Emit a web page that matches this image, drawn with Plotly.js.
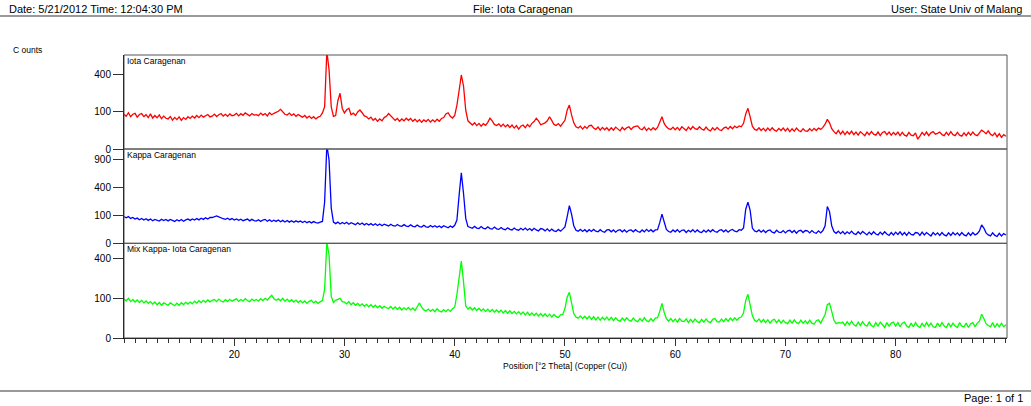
<!DOCTYPE html>
<html>
<head>
<meta charset="utf-8">
<script src="https://cdn.plot.ly/plotly-3.0.1.min.js"></script>
<style>
html,body{margin:0;padding:0;background:#fff;}
#chart{width:1031px;height:406px;}
</style>
</head>
<body>
<div id="chart"></div>
<script>
// 2Theta grid: start 10.0, step 0.2 deg (401 points up to 90.0)
const THETA_START = 10.0;
const THETA_STEP = 0.2;

// Counts (panel 1)
const iotaCounts = [
 88, 78, 96, 76, 88, 93, 74, 87, 92, 77,
 86, 72, 90, 70, 82, 71, 85, 67, 79, 69,
 66, 77, 61, 73, 63, 75, 60, 72, 64, 76,
 68, 79, 70, 82, 72, 84, 74, 81, 87, 75,
 79, 89, 77, 86, 92, 79, 88, 78, 90, 81,
 84, 93, 80, 91, 83, 95, 85, 80, 92, 84,
 86, 81, 94, 84, 92, 80, 96, 86, 93, 98,
 104, 115, 98, 88, 84, 94, 82, 90, 78, 87,
 80, 74, 82, 70, 79, 68, 76, 66, 74, 78,
 95, 130, 700, 460, 130, 78, 82, 170, 227, 120,
 95, 112, 121, 86, 94, 82, 100, 111, 96, 80,
 76, 66, 74, 60, 68, 56, 66, 58, 72, 78,
 92, 80, 66, 60, 68, 56, 66, 58, 69, 60,
 68, 56, 65, 54, 63, 52, 62, 55, 64, 53,
 62, 54, 65, 56, 68, 72, 90, 96, 78, 70,
 82, 140, 250, 400, 290, 110, 58, 50, 42, 50,
 40, 48, 38, 47, 41, 52, 69, 58, 44, 40,
 46, 37, 45, 36, 43, 34, 42, 32, 40, 29,
 38, 42, 33, 44, 36, 48, 55, 69, 58, 43,
 46, 50, 58, 76, 60, 44, 40, 47, 38, 48,
 60, 110, 141, 85, 50, 36, 32, 38, 29, 37,
 31, 40, 41, 32, 28, 35, 26, 34, 27, 33,
 25, 33, 26, 35, 28, 24, 34, 27, 33, 36,
 28, 35, 37, 39, 30, 27, 35, 25, 32, 26,
 33, 27, 34, 50, 76, 48, 36, 30, 28, 35,
 27, 34, 26, 36, 29, 25, 35, 28, 37, 30,
 28, 36, 29, 26, 35, 27, 24, 33, 26, 34,
 27, 25, 32, 35, 29, 37, 30, 38, 33, 39,
 36, 48, 90, 121, 75, 38, 28, 26, 33, 25,
 31, 24, 32, 25, 33, 26, 23, 31, 25, 32,
 24, 31, 22, 30, 23, 32, 25, 22, 30, 24,
 23, 30, 24, 31, 25, 32, 28, 34, 45, 64,
 50, 30, 22, 17, 25, 16, 23, 15, 22, 16,
 23, 15, 21, 14, 22, 16, 13, 21, 15, 22,
 16, 14, 21, 13, 20, 22, 15, 21, 14, 20,
 15, 21, 13, 20, 14, 12, 20, 14, 13, 19,
 7, 12, 20, 14, 21, 13, 19, 22, 16, 18,
 21, 15, 13, 20, 14, 22, 15, 13, 20, 14,
 12, 19, 13, 20, 14, 21, 15, 13, 20, 26,
 22, 17, 24, 16, 13, 19, 11, 17, 10, 15,
 12
];

// Counts (panel 2)
const kappaCounts = [
 92, 84, 92, 80, 86, 76, 82, 72, 80, 70,
 78, 68, 76, 66, 74, 68, 64, 75, 67, 73,
 65, 74, 66, 62, 72, 64, 73, 63, 71, 76,
 68, 77, 70, 79, 71, 81, 74, 84, 76, 86,
 86, 92, 97, 90, 82, 78, 74, 81, 72, 79,
 70, 77, 68, 75, 66, 73, 76, 65, 74, 67,
 64, 72, 62, 70, 74, 63, 71, 61, 69, 62,
 70, 60, 68, 59, 67, 58, 66, 57, 65, 58,
 64, 56, 63, 55, 62, 54, 61, 55, 53, 58,
 62, 220, 1250, 900, 160, 58, 50, 58, 48, 56,
 49, 57, 47, 55, 48, 45, 54, 46, 53, 44,
 51, 43, 50, 42, 49, 41, 48, 40, 47, 42,
 39, 47, 40, 38, 46, 39, 37, 45, 38, 36,
 44, 37, 35, 43, 36, 34, 42, 35, 33, 41,
 34, 40, 33, 39, 32, 40, 34, 31, 39, 33,
 42, 70, 300, 640, 320, 80, 36, 32, 29, 37,
 30, 28, 36, 29, 27, 35, 28, 26, 34, 27,
 25, 32, 26, 24, 31, 25, 23, 30, 24, 22,
 29, 23, 30, 22, 28, 21, 29, 23, 20, 28,
 26, 20, 27, 19, 26, 20, 18, 25, 19, 26,
 35, 90, 184, 110, 40, 22, 19, 25, 18, 24,
 17, 24, 18, 25, 19, 17, 24, 18, 16, 23,
 24, 17, 23, 16, 22, 24, 17, 23, 16, 22,
 23, 17, 24, 18, 16, 23, 17, 25, 18, 24,
 17, 23, 24, 55, 110, 60, 25, 18, 16, 23,
 17, 24, 16, 22, 23, 15, 22, 17, 24, 16,
 23, 17, 15, 22, 16, 23, 17, 24, 18, 16,
 22, 24, 17, 23, 16, 22, 25, 19, 17, 24,
 22, 30, 150, 219, 140, 30, 20, 17, 23, 16,
 22, 15, 21, 23, 16, 14, 22, 16, 15, 21,
 14, 20, 22, 15, 21, 13, 20, 22, 15, 21,
 20, 14, 21, 15, 13, 20, 14, 21, 40, 175,
 130, 40, 18, 13, 19, 12, 18, 11, 17, 12,
 19, 12, 10, 17, 11, 18, 12, 9, 16, 10,
 17, 11, 9, 16, 10, 17, 11, 8, 15, 9,
 16, 10, 17, 9, 15, 8, 16, 10, 9, 15,
 14, 8, 16, 9, 15, 10, 7, 15, 9, 14,
 8, 15, 9, 7, 14, 8, 15, 9, 14, 8,
 15, 9, 7, 14, 8, 15, 9, 12, 20, 44,
 30, 14, 9, 7, 14, 8, 6, 13, 7, 12,
 9
];

// Counts (panel 3)
const mixCounts = [
 96, 88, 100, 84, 94, 82, 92, 80, 90, 78,
 87, 76, 84, 73, 82, 70, 80, 68, 78, 71,
 68, 78, 70, 66, 77, 68, 79, 71, 81, 73,
 82, 74, 86, 77, 88, 79, 90, 81, 92, 83,
 90, 94, 84, 96, 87, 82, 93, 85, 95, 86,
 92, 97, 85, 94, 87, 98, 89, 84, 96, 88,
 94, 86, 98, 89, 100, 91, 104, 116, 98, 90,
 97, 88, 100, 86, 96, 84, 93, 82, 91, 80,
 89, 78, 87, 76, 85, 90, 78, 86, 76, 84,
 90, 150, 580, 440, 110, 80, 90, 95, 100, 84,
 82, 74, 84, 70, 79, 68, 76, 66, 74, 64,
 72, 62, 70, 60, 68, 58, 66, 56, 64, 58,
 55, 63, 53, 61, 52, 60, 50, 58, 51, 59,
 50, 57, 48, 62, 78, 60, 50, 46, 53, 45,
 52, 44, 54, 46, 43, 51, 44, 52, 45, 54,
 60, 120, 250, 376, 200, 65, 53, 60, 50, 58,
 48, 56, 47, 54, 45, 53, 44, 52, 43, 50,
 42, 49, 40, 48, 39, 47, 38, 45, 37, 44,
 36, 43, 34, 42, 33, 40, 32, 39, 31, 38,
 30, 37, 29, 36, 28, 35, 29, 27, 34, 35,
 55, 105, 132, 75, 38, 28, 25, 31, 24, 30,
 23, 30, 22, 29, 21, 28, 20, 27, 21, 28,
 20, 27, 19, 26, 20, 18, 25, 19, 26, 20,
 18, 25, 19, 17, 24, 18, 26, 19, 17, 24,
 18, 25, 26, 45, 76, 42, 24, 18, 24, 17,
 23, 16, 24, 18, 17, 23, 15, 22, 16, 23,
 17, 15, 22, 16, 23, 17, 15, 22, 24, 17,
 16, 23, 17, 24, 18, 25, 19, 26, 20, 26,
 28, 40, 90, 121, 70, 32, 20, 17, 23, 16,
 22, 15, 21, 14, 20, 22, 15, 21, 14, 20,
 15, 13, 20, 14, 21, 15, 13, 20, 14, 19,
 13, 20, 14, 12, 19, 21, 14, 22, 35, 70,
 76, 45, 20, 13, 15, 14, 16, 10, 17, 11,
 18, 11, 9, 16, 10, 17, 11, 9, 16, 10,
 8, 15, 9, 16, 10, 7, 15, 9, 14, 16,
 9, 15, 8, 14, 16, 9, 7, 14, 8, 15,
 9, 7, 14, 8, 15, 9, 14, 8, 7, 14,
 8, 15, 9, 7, 14, 8, 14, 9, 7, 15,
 9, 8, 14, 7, 13, 15, 8, 14, 18, 36,
 24, 13, 10, 8, 15, 7, 13, 8, 14, 8,
 11
];

const panelNames = ["Iota Caragenan", "Kappa Caragenan", "Mix Kappa- Iota Caragenan"];
const panelColors = ["#ff0000", "#0000ff", "#00ff00"];
const ticks1 = [0, 100, 400];
const ticks2 = [0, 100, 400, 900];
const ticks3 = [0, 100, 400];
const xTicks = [20, 30, 40, 50, 60, 70, 80];

const headerLeft = "Date: 5/21/2012 Time: 12:04:30 PM";
const headerMid = "File: Iota Caragenan";
const headerRight = "User: State Univ of Malang";
const footerRight = "Page: 1 of 1";
const yLabel = "C ounts";
const xLabel = "Position [°2 Theta] (Copper (Cu))";

const twoTheta = iotaCounts.map((_, i) => +(THETA_START + i * THETA_STEP).toFixed(1));
const sq = a => a.map(v => Math.sqrt(v));

// geometry of plot area in pixels
const W = 1031, H = 406;
const L = 124, R = 1007, T = 55, B = 338;
const px = p => (p - L) / (R - L);
const py = p => (B - p) / (B - T);

const traces = [iotaCounts, kappaCounts, mixCounts].map((c, i) => ({
  x: twoTheta, y: sq(c), type: 'scatter', mode: 'lines',
  line: {color: panelColors[i], width: 1.3},
  xaxis: 'x', yaxis: i === 0 ? 'y' : 'y' + (i + 1),
  hoverinfo: 'skip', showlegend: false
}));

const FONT = 'Liberation Sans, Arial, sans-serif';
const yBase = {
  showgrid: false, zeroline: false, showline: true, linecolor: '#000', linewidth: 1,
  mirror: false, ticks: 'outside', ticklen: 10, tickcolor: '#333', tickwidth: 1,
  tickfont: {family: FONT, size: 10, color: '#000'},
  tickmode: 'array', fixedrange: true
};
const d1 = [py(149), 1], d2 = [py(243.3), py(149)], d3 = [0, py(243.3)];

const ann = (text, x, y, xa, ya, size) => ({
  text, xref: 'paper', yref: 'paper', x, y, xanchor: xa, yanchor: ya, showarrow: false,
  borderpad: 0, font: {family: FONT, size, color: '#000'}
});

const layout = {
  width: W, height: H,
  margin: {l: L, r: W - R, t: T, b: H - B, pad: 0},
  paper_bgcolor: '#fff', plot_bgcolor: '#fff',
  showlegend: false,
  xaxis: {
    range: [10, 90.1], anchor: 'y3', showgrid: false, zeroline: false,
    showline: true, linecolor: '#000', linewidth: 1,
    ticks: 'outside', ticklen: 7, tickcolor: '#333', tickwidth: 1,
    tickmode: 'array', tickvals: xTicks, ticktext: xTicks.map(String),
    tickfont: {family: FONT, size: 10, color: '#000'},
    minor: {tickmode: 'linear', tick0: 10, dtick: 1, ticks: 'outside', ticklen: 4, tickcolor: '#333', showgrid: false},
    fixedrange: true
  },
  yaxis: Object.assign({}, yBase, {domain: d1, range: [0, 25.4], anchor: 'x',
    tickvals: sq(ticks1), ticktext: ticks1.map(String)}),
  yaxis2: Object.assign({}, yBase, {domain: d2, range: [0, 33.9], anchor: 'x',
    tickvals: sq(ticks2), ticktext: ticks2.map(String)}),
  yaxis3: Object.assign({}, yBase, {domain: d3, range: [0, 23.85], anchor: 'x',
    tickvals: sq(ticks3), ticktext: ticks3.map(String)}),
  shapes: [
    {type: 'rect', xref: 'paper', yref: 'paper', x0: 0, x1: 1, y0: d1[0], y1: d1[1], line: {color: '#555', width: 1}},
    {type: 'rect', xref: 'paper', yref: 'paper', x0: 0, x1: 1, y0: d2[0], y1: d2[1], line: {color: '#555', width: 1}},
    {type: 'rect', xref: 'paper', yref: 'paper', x0: 0, x1: 1, y0: d3[0], y1: d3[1], line: {color: '#555', width: 1}},
    {type: 'line', xref: 'paper', yref: 'paper', x0: px(0), x1: px(W), y0: py(16), y1: py(16), line: {color: '#777', width: 1.5}},
    {type: 'line', xref: 'paper', yref: 'paper', x0: px(0), x1: px(W), y0: py(391), y1: py(391), line: {color: '#777', width: 1.5}}
  ],
  annotations: [
    ann(headerLeft, px(8), py(9), 'left', 'middle', 11),
    ann(headerMid, px(523), py(9), 'center', 'middle', 11),
    ann(headerRight, px(1023), py(9), 'right', 'middle', 11),
    ann(footerRight, px(1024), py(398), 'right', 'middle', 11),
    ann(yLabel, px(12), py(50), 'left', 'middle', 8.5),
    ann(xLabel, px(565), py(366), 'center', 'middle', 8.5),
    ann(panelNames[0], px(126), d1[1], 'left', 'top', 8.5),
    ann(panelNames[1], px(126), d2[1], 'left', 'top', 8.5),
    ann(panelNames[2], px(126), d3[1], 'left', 'top', 8.5)
  ]
};

Plotly.newPlot('chart', traces, layout, {staticPlot: true, displayModeBar: false});
</script>
</body>
</html>
